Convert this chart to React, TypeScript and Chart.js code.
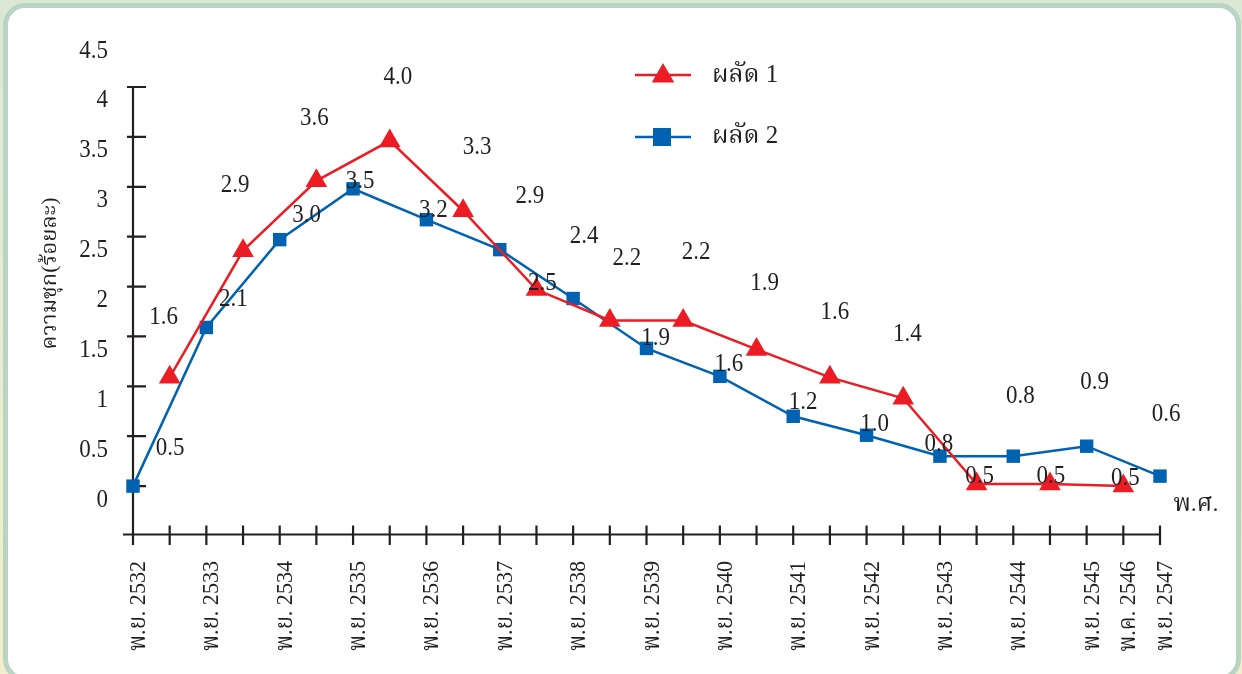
import React, { useEffect, useRef } from "react";
import { Chart, registerables } from "chart.js";

Chart.register(...registerables);

// ---------- data ----------
const periodLabels: string[] = [
  "พ.ย. 2532", "", "พ.ย. 2533", "", "พ.ย. 2534", "", "พ.ย. 2535", "",
  "พ.ย. 2536", "", "พ.ย. 2537", "", "พ.ย. 2538", "", "พ.ย. 2539", "",
  "พ.ย. 2540", "", "พ.ย. 2541", "", "พ.ย. 2542", "", "พ.ย. 2543", "",
  "พ.ย. 2544", "", "พ.ย. 2545", "พ.ค. 2546", "พ.ย. 2547",
];

// ผลัด 1 (red) – values at half-year positions
const round1Values: (number | null)[] = [
  null, 1.59, null, 2.86, null, 3.56, null, 3.96, null, 3.26, null, 2.47, null, 2.16, null,
  2.16, null, 1.87, null, 1.59, null, 1.38, null, 0.52, null, 0.52, null, 0.5, null,
];

// ผลัด 2 (blue)
const round2Values: (number | null)[] = [
  0.5, null, 2.09, null, 2.97, null, 3.48, null, 3.17, null, 2.87, null, 2.38, null, 1.88,
  null, 1.6, null, 1.2, null, 1.01, null, 0.8, null, 0.8, null, 0.9, null, 0.6,
];

const yTickLabels: string[] = ["0", "0.5", "1", "1.5", "2", "2.5", "3", "3.5", "4", "4.5"];

const seriesNames = ["ผลัด 1", "ผลัด 2"];
const yTitle = "ความชุก(ร้อยละ)";
const xTitle = "พ.ศ.";

// pixel offsets of the value labels from their points (placement only)
const round1LabelOffsets: ([number, number] | null)[] = [
  null, [-6, -60], null, [-8, -65], null, [-2, -62], null, [8, -63], null, [14, -63], null,
  [6, -6], null, [17, -62], null, [13, -68], null, [8, -66], null, [5, -65], null, [4, -64],
  null, [3, -8], null, [1, -8], null, [2, -8], null,
];
const round2LabelOffsets: ([number, number] | null)[] = [
  [37, -38], null, [27, -28], null, [27, -24], null, [7, -7], null, [7, -9], null, [30, -53],
  null, [11, -62], null, [9, -10], null, [9, -12], null, [10, -14], null, [8, -11], null,
  [-1, -12], null, [7, -60], null, [8, -64], null, [6, -62],
];

// ---------- style ----------
const RED = "#ec1c24";
const BLUE = "#0062b1";
const INK = "#231f20";
const FONT = '"Liberation Serif", "Noto Serif Thai", "Norasi", "Noto Sans Thai", "DejaVu Serif", serif';

function drawNum(ctx: CanvasRenderingContext2D, text: string, x: number, y: number, align: CanvasTextAlign) {
  ctx.save();
  ctx.translate(x, y);
  ctx.scale(0.92, 1);
  ctx.textAlign = align;
  ctx.textBaseline = "middle";
  ctx.fillText(text, 0, 0);
  ctx.restore();
}

function triangle(ctx: CanvasRenderingContext2D, cx: number, cy: number, r: number) {
  ctx.beginPath();
  for (let k = 0; k < 3; k++) {
    const a = (k * 2 * Math.PI) / 3;
    const px = cx + Math.sin(a) * r;
    const py = cy - Math.cos(a) * r;
    if (k === 0) ctx.moveTo(px, py);
    else ctx.lineTo(px, py);
  }
  ctx.closePath();
  ctx.fill();
}

const decorPlugin = {
  id: "decor",
  beforeDatasetsDraw(chart: any) {
    const ctx: CanvasRenderingContext2D = chart.ctx;
    const xs = chart.scales.x;
    const ys = chart.scales.y;
    const x0 = xs.getPixelForValue(0);
    const xN = xs.getPixelForValue(periodLabels.length - 1);
    const y0 = ys.getPixelForValue(0);
    const yTop = ys.getPixelForValue(4.5);
    ctx.save();
    ctx.strokeStyle = INK;
    ctx.lineWidth = 2.2;
    ctx.beginPath();
    ctx.moveTo(x0, y0);
    ctx.lineTo(x0, yTop);
    ctx.moveTo(x0 - 10, y0 - 1.5);
    ctx.lineTo(xN, y0 - 1.5);
    for (let i = 1; i < yTickLabels.length; i++) {
      const py = ys.getPixelForValue(i * 0.5);
      ctx.moveTo(x0 - 6, py);
      ctx.lineTo(x0 + 13, py);
    }
    for (let i = 0; i < periodLabels.length; i++) {
      const px = xs.getPixelForValue(i);
      ctx.moveTo(px, y0 - 10.5);
      ctx.lineTo(px, y0 + 9);
    }
    ctx.stroke();

    // y tick labels (drawn as in the source figure, shifted upward)
    ctx.fillStyle = INK;
    ctx.font = `25px ${FONT}`;
    yTickLabels.forEach((t, i) => {
      const py = ys.getPixelForValue(i * 0.5) - 36;
      drawNum(ctx, t, 108, py, "right");
    });

    // x labels rotated
    ctx.font = `24px ${FONT}`;
    periodLabels.forEach((t, i) => {
      if (!t) return;
      const px = xs.getPixelForValue(i);
      ctx.save();
      ctx.translate(px + 12, y0 + 25);
      ctx.rotate(-Math.PI / 2);
      ctx.scale(0.92, 1);
      ctx.textAlign = "right";
      ctx.textBaseline = "alphabetic";
      ctx.fillText(t, 0, 0);
      ctx.restore();
    });

    // y title
    ctx.save();
    ctx.font = `22px ${FONT}`;
    ctx.translate(56, (yTop + y0) / 2 - 38);
    ctx.rotate(-Math.PI / 2);
    ctx.textAlign = "center";
    ctx.textBaseline = "alphabetic";
    ctx.fillText(yTitle, 0, 0);
    ctx.restore();

    // x title
    ctx.font = `24px ${FONT}`;
    ctx.textAlign = "center";
    ctx.textBaseline = "middle";
    ctx.fillText(xTitle, 1196, 505);
    ctx.restore();
  },
  afterDatasetsDraw(chart: any) {
    const ctx: CanvasRenderingContext2D = chart.ctx;
    const xs = chart.scales.x;
    const ys = chart.scales.y;
    ctx.save();
    ctx.fillStyle = INK;
    ctx.font = `25px ${FONT}`;
    const drawSet = (vals: (number | null)[], offs: ([number, number] | null)[]) => {
      vals.forEach((v, i) => {
        const o = offs[i];
        if (v === null || !o) return;
        const px = xs.getPixelForValue(i) + o[0];
        const py = ys.getPixelForValue(v) + o[1];
        drawNum(ctx, v.toFixed(1), px, py, "center");
      });
    };
    drawSet(round1Values, round1LabelOffsets);
    drawSet(round2Values, round2LabelOffsets);

    // legend
    ctx.lineWidth = 2.5;
    ctx.strokeStyle = RED;
    ctx.fillStyle = RED;
    ctx.beginPath();
    ctx.moveTo(635, 75);
    ctx.lineTo(691, 75);
    ctx.stroke();
    triangle(ctx, 663, 76, 13);
    ctx.strokeStyle = BLUE;
    ctx.fillStyle = BLUE;
    ctx.beginPath();
    ctx.moveTo(635, 137);
    ctx.lineTo(691, 137);
    ctx.stroke();
    ctx.fillRect(653, 128, 18, 18);

    ctx.fillStyle = INK;
    ctx.font = `25px ${FONT}`;
    ctx.textAlign = "left";
    ctx.textBaseline = "middle";
    ctx.fillText(seriesNames[0], 712, 75);
    ctx.fillText(seriesNames[1], 712, 136);
    ctx.restore();
  },
};

export default function App() {
  const ref = useRef<HTMLCanvasElement | null>(null);
  useEffect(() => {
    if (!ref.current) return;
    const chart = new Chart(ref.current, {
      type: "line",
      data: {
        labels: periodLabels,
        datasets: [
          {
            label: seriesNames[0],
            data: round1Values,
            borderColor: RED,
            backgroundColor: RED,
            pointBackgroundColor: RED,
            pointBorderColor: RED,
            pointStyle: "triangle",
            pointRadius: 12.5,
            pointBorderWidth: 0,
            borderWidth: 2.5,
            spanGaps: true,
            tension: 0,
            clip: false,
          },
          {
            label: seriesNames[1],
            data: round2Values,
            borderColor: BLUE,
            backgroundColor: BLUE,
            pointBackgroundColor: BLUE,
            pointBorderColor: BLUE,
            pointStyle: "rect",
            pointRadius: 9.5,
            pointBorderWidth: 0,
            borderWidth: 2.5,
            spanGaps: true,
            tension: 0,
            clip: false,
          },
        ],
      },
      options: {
        responsive: false,
        animation: false,
        devicePixelRatio: 1,
        layout: { padding: { left: 133, right: 82, top: 87, bottom: 138 } },
        scales: {
          x: { type: "category", display: false, offset: false },
          y: { type: "linear", display: false, min: 0, max: 4.5 },
        },
        plugins: { legend: { display: false }, tooltip: { enabled: false } },
      },
      plugins: [decorPlugin],
    });
    return () => chart.destroy();
  }, []);

  return (
    <div
      style={{
        position: "fixed",
        left: 0,
        top: 0,
        width: 1242,
        height: 674,
        overflow: "hidden",
        background: "linear-gradient(to bottom, #dbe8d5 0%, #e6ebd2 40%, #f3edcb 85%)",
      }}
    >
      <div
        style={{
          position: "absolute",
          left: 3,
          top: 3,
          width: 1238,
          height: 678,
          boxSizing: "border-box",
          border: "5px solid #b8d4c3",
          borderRadius: 22,
          background: "#ffffff",
        }}
      />
      <canvas
        ref={ref}
        width={1242}
        height={674}
        style={{ position: "absolute", left: 0, top: 0, width: 1242, height: 674 }}
      />
    </div>
  );
}
